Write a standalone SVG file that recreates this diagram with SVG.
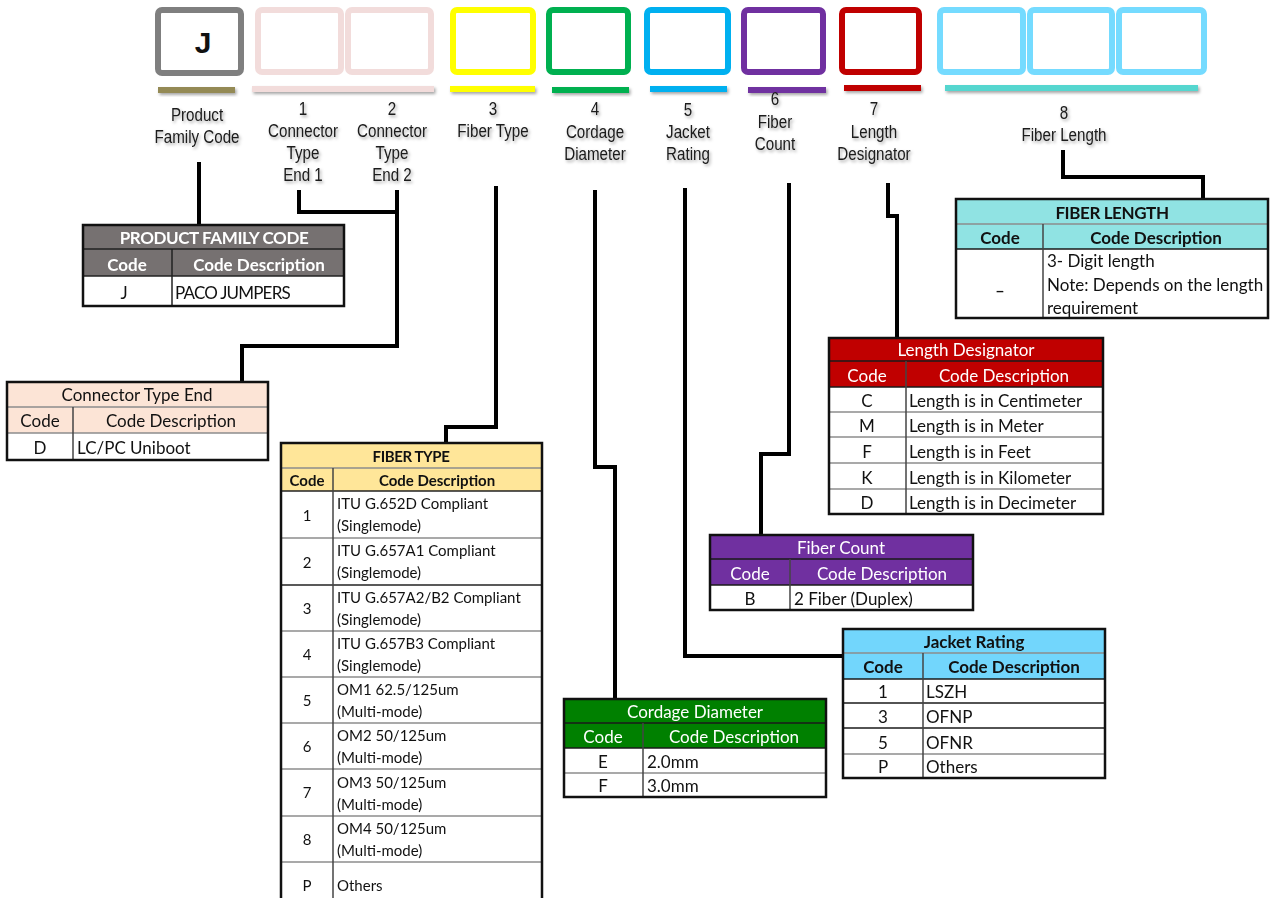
<svg xmlns="http://www.w3.org/2000/svg" width="1270" height="898" viewBox="0 0 1270 898">
<defs>
<filter id="sh" x="-20%" y="-30%" width="140%" height="180%"><feDropShadow dx="1.5" dy="2" stdDeviation="1.4" flood-color="#000" flood-opacity="0.35"/></filter>
<style>
.lbl{font-family:"Liberation Sans",Arial,sans-serif;font-size:18.5px;fill:#1a1a1a;text-anchor:middle}
.t{font-family:Lato,"Open Sans",sans-serif;font-size:17px;fill:#111}
.s{font-size:15px}
.b{font-weight:bold}
.c{text-anchor:middle}
.w{fill:#fff}
.conn{fill:none;stroke:#000;stroke-width:4;stroke-linejoin:miter;stroke-linecap:butt}
.box{fill:#fff;stroke-width:6}
.ob{fill:none;stroke:#111;stroke-width:2.5}
.rl{stroke:#8c8c8c;stroke-width:1.5}
.cl{stroke:#444;stroke-width:1.5}
</style>
</defs>
<rect width="1270" height="898" fill="#fff"/>

<g id="code-boxes">
<rect x="158" y="10" width="83" height="63" rx="4" class="box" stroke="#7f7f7f"/>
<text x="203" y="53" font-family="Liberation Sans,Arial,sans-serif" font-size="30" font-weight="bold" text-anchor="middle" fill="#111">J</text>
<rect x="258" y="10" width="83" height="62" rx="4" class="box" stroke="#f2dcdb" stroke-width="5.5"/>
<rect x="348" y="10" width="83" height="62" rx="4" class="box" stroke="#f2dcdb" stroke-width="5.5"/>
<rect x="453" y="10" width="80" height="62" rx="4" class="box" stroke="#ffff00"/>
<rect x="549" y="10" width="79" height="62" rx="4" class="box" stroke="#00b050"/>
<rect x="647" y="10" width="81" height="62" rx="4" class="box" stroke="#00b0f0"/>
<rect x="744" y="10" width="79" height="62" rx="4" class="box" stroke="#7030a0"/>
<rect x="842" y="10" width="77" height="62" rx="4" class="box" stroke="#c00000"/>
<rect x="940" y="10" width="83" height="62" rx="4" class="box" stroke="#75dbff" stroke-width="5.5"/>
<rect x="1030" y="10" width="82" height="62" rx="4" class="box" stroke="#75dbff" stroke-width="5.5"/>
<rect x="1119" y="10" width="85" height="62" rx="4" class="box" stroke="#75dbff" stroke-width="5.5"/>
</g>

<g id="bars" filter="url(#sh)">
<rect x="158" y="87" width="77" height="6" fill="#948a54"/>
<rect x="252" y="86" width="182" height="6" fill="#f2dcdb"/>
<rect x="450" y="86" width="85" height="6" fill="#ffff00"/>
<rect x="552" y="87" width="77" height="6" fill="#00b050"/>
<rect x="650" y="86" width="77" height="6" fill="#00b0f0"/>
<rect x="748" y="87" width="78" height="6" fill="#7030a0"/>
<rect x="844" y="85" width="77" height="6" fill="#c00000"/>
<rect x="945" y="85" width="253" height="6" fill="#55d6cf"/>
</g>

<g id="labels" class="lbl" filter="url(#sh)">
<g transform="translate(197,0) scale(0.82,1)"><text x="0" y="121">Product</text><text x="0" y="143">Family Code</text></g>
<g transform="translate(303,0) scale(0.82,1)"><text x="0" y="115">1</text><text x="0" y="137">Connector</text><text x="0" y="159">Type</text><text x="0" y="181">End 1</text></g>
<g transform="translate(392,0) scale(0.82,1)"><text x="0" y="115">2</text><text x="0" y="137">Connector</text><text x="0" y="159">Type</text><text x="0" y="181">End 2</text></g>
<g transform="translate(493,0) scale(0.82,1)"><text x="0" y="115">3</text><text x="0" y="137">Fiber Type</text></g>
<g transform="translate(595,0) scale(0.82,1)"><text x="0" y="115">4</text><text x="0" y="138">Cordage</text><text x="0" y="160">Diameter</text></g>
<g transform="translate(688,0) scale(0.82,1)"><text x="0" y="116">5</text><text x="0" y="138">Jacket</text><text x="0" y="160">Rating</text></g>
<g transform="translate(775,0) scale(0.82,1)"><text x="0" y="105">6</text><text x="0" y="128">Fiber</text><text x="0" y="150">Count</text></g>
<g transform="translate(874,0) scale(0.82,1)"><text x="0" y="115">7</text><text x="0" y="138">Length</text><text x="0" y="160">Designator</text></g>
<g transform="translate(1064,0) scale(0.82,1)"><text x="0" y="119">8</text><text x="0" y="141">Fiber Length</text></g>
</g>

<g id="connectors" class="conn">
<path d="M199,162 V226"/>
<path d="M299,190 V212 H397"/>
<path d="M397,190 V346 H242 V382"/>
<path d="M496,186 V427 H446 V443"/>
<path d="M595,190 V467 H615 V699"/>
<path d="M685,188 V656 H843"/>
<path d="M789,183 V454 H761 V535"/>
<path d="M888,183 V216 H897 V338"/>
<path d="M1063,150 V177 H1203 V199"/>
</g>

<g id="product-family-code">
<rect x="83" y="225" width="261" height="51" fill="#767171"/>
<line x1="83" y1="249" x2="344" y2="249" stroke="#222" stroke-width="1.5"/>
<line x1="83" y1="276" x2="344" y2="276" stroke="#222" stroke-width="1.5"/>
<line x1="172" y1="249" x2="172" y2="306" stroke="#222" stroke-width="1.5"/>
<rect x="83" y="225" width="261" height="81" class="ob"/>
<text x="214" y="244" class="t b c w" letter-spacing="-0.4">PRODUCT FAMILY CODE</text>
<text x="127" y="271" class="t b c w">Code</text>
<text x="259" y="271" class="t b c w">Code Description</text>
<text x="124" y="299" class="t c">J</text>
<text x="175" y="299" class="t" letter-spacing="-0.8">PACO JUMPERS</text>
</g>

<g id="connector-type-end">
<rect x="7" y="382" width="261" height="51" fill="#fce4d6"/>
<line x1="7" y1="407" x2="268" y2="407" class="rl"/>
<line x1="7" y1="433" x2="268" y2="433" class="rl"/>
<line x1="73" y1="407" x2="73" y2="460" class="cl"/>
<rect x="7" y="382" width="261" height="78" class="ob"/>
<text x="137" y="401" class="t c">Connector Type End</text>
<text x="40" y="427" class="t c">Code</text>
<text x="171" y="427" class="t c">Code Description</text>
<text x="40" y="454" class="t c">D</text>
<text x="77" y="454" class="t">LC/PC Uniboot</text>
</g>

<g id="fiber-type">
<rect x="281" y="443" width="261" height="48" fill="#ffe699"/>
<line x1="281" y1="468" x2="542" y2="468" class="rl"/>
<line x1="281" y1="491" x2="542" y2="491" stroke="#222" stroke-width="1.5"/>
<g class="rl">
<line x1="281" y1="538" x2="542" y2="538"/>
<line x1="281" y1="585" x2="542" y2="585" stroke="#222"/>
<line x1="281" y1="631" x2="542" y2="631"/>
<line x1="281" y1="677" x2="542" y2="677"/>
<line x1="281" y1="723" x2="542" y2="723"/>
<line x1="281" y1="769" x2="542" y2="769"/>
<line x1="281" y1="816" x2="542" y2="816"/>
<line x1="281" y1="862" x2="542" y2="862"/>
</g>
<line x1="333" y1="468" x2="333" y2="898" class="cl"/>
<path d="M281,900 V443 H542 V900" class="ob"/>
<text x="411" y="462" class="t s b c" letter-spacing="-0.4">FIBER TYPE</text>
<text x="307" y="486" class="t s b c">Code</text>
<text x="437" y="486" class="t s b c">Code Description</text>
<g class="t s">
<text x="307" y="521" class="c">1</text><text x="337" y="509">ITU G.652D Compliant</text><text x="337" y="531">(Singlemode)</text>
<text x="307" y="568" class="c">2</text><text x="337" y="556">ITU G.657A1 Compliant</text><text x="337" y="578">(Singlemode)</text>
<text x="307" y="614" class="c">3</text><text x="337" y="603">ITU G.657A2/B2 Compliant</text><text x="337" y="625">(Singlemode)</text>
<text x="307" y="660" class="c">4</text><text x="337" y="649">ITU G.657B3 Compliant</text><text x="337" y="671">(Singlemode)</text>
<text x="307" y="706" class="c">5</text><text x="337" y="695">OM1 62.5/125um</text><text x="337" y="717">(Multi-mode)</text>
<text x="307" y="752" class="c">6</text><text x="337" y="741">OM2 50/125um</text><text x="337" y="763">(Multi-mode)</text>
<text x="307" y="798" class="c">7</text><text x="337" y="788">OM3 50/125um</text><text x="337" y="810">(Multi-mode)</text>
<text x="307" y="845" class="c">8</text><text x="337" y="834">OM4 50/125um</text><text x="337" y="856">(Multi-mode)</text>
<text x="307" y="891" class="c">P</text><text x="337" y="891">Others</text>
</g>
</g>

<g id="cordage-diameter">
<rect x="564" y="699" width="262" height="49" fill="#008000"/>
<line x1="564" y1="723" x2="826" y2="723" stroke="#1a1a1a" stroke-width="1.5"/>
<line x1="564" y1="748" x2="826" y2="748" stroke="#1a1a1a" stroke-width="1.5"/>
<line x1="564" y1="773" x2="826" y2="773" class="rl"/>
<line x1="643" y1="723" x2="643" y2="797" class="cl"/>
<rect x="564" y="699" width="262" height="98" class="ob"/>
<text x="695" y="718" class="t c w">Cordage Diameter</text>
<text x="603" y="743" class="t c w">Code</text>
<text x="734" y="743" class="t c w">Code Description</text>
<text x="603" y="768" class="t c">E</text><text x="647" y="768" class="t">2.0mm</text>
<text x="603" y="792" class="t c">F</text><text x="647" y="792" class="t">3.0mm</text>
</g>

<g id="jacket-rating">
<rect x="843" y="629" width="262" height="50" fill="#72d6fc"/>
<line x1="843" y1="653" x2="1105" y2="653" class="rl"/>
<line x1="843" y1="679" x2="1105" y2="679" stroke="#1a1a1a" stroke-width="1.5"/>
<line x1="843" y1="703" x2="1105" y2="703" stroke="#1a1a1a" stroke-width="1.5"/>
<line x1="843" y1="728" x2="1105" y2="728" stroke="#1a1a1a" stroke-width="1.5"/>
<line x1="843" y1="754" x2="1105" y2="754" class="rl"/>
<line x1="923" y1="653" x2="923" y2="778" class="cl"/>
<rect x="843" y="629" width="262" height="149" class="ob"/>
<text x="974" y="648" class="t b c">Jacket Rating</text>
<text x="883" y="673" class="t b c">Code</text>
<text x="1014" y="673" class="t b c">Code Description</text>
<text x="883" y="698" class="t c">1</text><text x="926" y="698" class="t">LSZH</text>
<text x="883" y="723" class="t c">3</text><text x="926" y="723" class="t">OFNP</text>
<text x="883" y="749" class="t c">5</text><text x="926" y="749" class="t">OFNR</text>
<text x="883" y="773" class="t c">P</text><text x="926" y="773" class="t">Others</text>
</g>

<g id="length-designator">
<rect x="829" y="338" width="274" height="49" fill="#c00000"/>
<line x1="829" y1="361" x2="1103" y2="361" stroke="#1a1a1a" stroke-width="1.5"/>
<line x1="829" y1="387" x2="1103" y2="387" stroke="#1a1a1a" stroke-width="1.5"/>
<g class="rl">
<line x1="829" y1="412" x2="1103" y2="412"/>
<line x1="829" y1="437" x2="1103" y2="437"/>
<line x1="829" y1="463" x2="1103" y2="463"/>
<line x1="829" y1="489" x2="1103" y2="489"/>
</g>
<line x1="906" y1="361" x2="906" y2="514" class="cl"/>
<rect x="829" y="338" width="274" height="176" class="ob"/>
<text x="966" y="356" class="t c w">Length Designator</text>
<text x="867" y="382" class="t c w">Code</text>
<text x="1004" y="382" class="t c w">Code Description</text>
<text x="867" y="407" class="t c">C</text><text x="909" y="407" class="t">Length is in Centimeter</text>
<text x="867" y="432" class="t c">M</text><text x="909" y="432" class="t">Length is in Meter</text>
<text x="867" y="458" class="t c">F</text><text x="909" y="458" class="t">Length is in Feet</text>
<text x="867" y="484" class="t c">K</text><text x="909" y="484" class="t">Length is in Kilometer</text>
<text x="867" y="509" class="t c">D</text><text x="909" y="509" class="t">Length is in Decimeter</text>
</g>

<g id="fiber-count">
<rect x="710" y="535" width="263" height="50" fill="#7030a0"/>
<line x1="710" y1="559" x2="973" y2="559" stroke="#1a1a1a" stroke-width="1.5"/>
<line x1="710" y1="585" x2="973" y2="585" stroke="#1a1a1a" stroke-width="1.5"/>
<line x1="790" y1="559" x2="790" y2="610" class="cl"/>
<rect x="710" y="535" width="263" height="75" class="ob"/>
<text x="841" y="554" class="t c w">Fiber Count</text>
<text x="750" y="580" class="t c w">Code</text>
<text x="882" y="580" class="t c w">Code Description</text>
<text x="750" y="605" class="t c">B</text><text x="794" y="605" class="t">2 Fiber (Duplex)</text>
</g>

<g id="fiber-length">
<rect x="956" y="199" width="312" height="50" fill="#90e3e3"/>
<line x1="956" y1="224" x2="1268" y2="224" class="rl"/>
<line x1="956" y1="249" x2="1268" y2="249" stroke="#1a1a1a" stroke-width="1.5"/>
<line x1="1043" y1="224" x2="1043" y2="318" class="cl"/>
<rect x="956" y="199" width="312" height="119" class="ob"/>
<text x="1112" y="219" class="t b c" letter-spacing="-0.4">FIBER LENGTH</text>
<text x="1000" y="244" class="t b c">Code</text>
<text x="1156" y="244" class="t b c">Code Description</text>
<text x="1000" y="290" class="t b c" font-size="20">_</text>
<text x="1047" y="267" class="t">3- Digit length</text>
<text x="1047" y="291" class="t">Note: Depends on the length</text>
<text x="1047" y="314" class="t">requirement</text>
</g>
</svg>
